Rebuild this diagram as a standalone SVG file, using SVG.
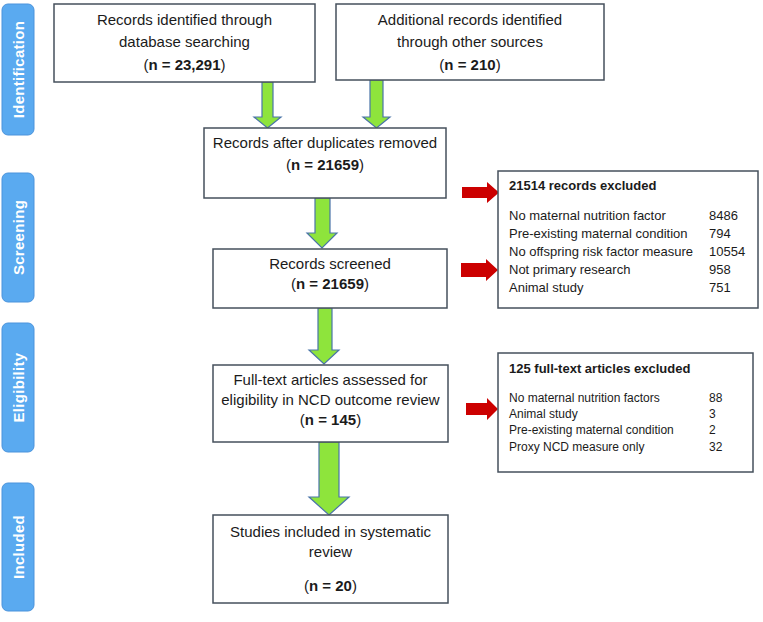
<svg xmlns="http://www.w3.org/2000/svg" width="763" height="622" viewBox="0 0 763 622">
<style>
text{font-family:"Liberation Sans",Arial,sans-serif;fill:#1b1b1b}
.box{fill:#fff;stroke:#46505c;stroke-width:1.5}
.side{fill:#5aaaf0;stroke:#4b93dc;stroke-width:1}
.sidet{fill:#fff;font-size:15px;font-weight:bold;letter-spacing:0.3px}
.m{font-size:15px;text-anchor:middle}
.b{font-weight:bold}
.g{fill:#8ee43c;stroke:#4a74a8;stroke-width:1.2}
.r{fill:#cc0000;stroke:none}
.t1{font-size:13px}
.t2{font-size:12px}
</style>
<g id="side-identification"><rect class="side" x="2" y="4" width="32" height="131" rx="6"/><text class="sidet" transform="translate(24,69.5) rotate(-90)" text-anchor="middle">Identification</text></g>
<g id="side-screening"><rect class="side" x="2" y="173" width="32" height="129" rx="6"/><text class="sidet" transform="translate(24,237.5) rotate(-90)" text-anchor="middle">Screening</text></g>
<g id="side-eligibility"><rect class="side" x="2" y="323" width="32" height="129" rx="6"/><text class="sidet" transform="translate(24,387.5) rotate(-90)" text-anchor="middle">Eligibility</text></g>
<g id="side-included"><rect class="side" x="2" y="483" width="32" height="128" rx="6"/><text class="sidet" transform="translate(24,547) rotate(-90)" text-anchor="middle">Included</text></g>

<g id="connectors">
<polygon class="g" points="262,82 273,82 273,117 281,117 267.5,128 254,117 262,117"/>
<polygon class="g" points="370,80 383,80 383,117 390,117 376.5,128 363,117 370,117"/>
<polygon class="g" points="315,198 330,198 330,233 337,233 322,248 307,233 315,233"/>
<polygon class="g" points="318,308 332,308 332,350 339,350 324,364 309,350 318,350"/>
<polygon class="g" points="319,442 339,442 339,497 349,497 329,515 309,497 319,497"/>
<polygon class="r" points="462,187 487,187 487,182 499,192.5 487,203 487,198 462,198"/>
<polygon class="r" points="461,263 486,263 486,259 498,270 486,281 486,277 461,277"/>
<polygon class="r" points="466,403 487,403 487,398 498,409 487,420 487,415 466,415"/>
</g>

<g id="node-db"><rect class="box" x="54" y="4" width="261" height="78"/>
<text class="m" x="184.5" y="25">Records identified through</text>
<text class="m" x="184.5" y="47">database searching</text>
<text class="m" x="184.5" y="70">(<tspan class="b">n = 23,291</tspan>)</text></g>

<g id="node-other"><rect class="box" x="336" y="4" width="268" height="76"/>
<text class="m" x="470" y="25">Additional records identified</text>
<text class="m" x="470" y="47">through other sources</text>
<text class="m" x="470" y="70">(<tspan class="b">n = 210</tspan>)</text></g>

<g id="node-dup"><rect class="box" x="204" y="128" width="242" height="70"/>
<text class="m" x="325" y="148">Records after duplicates removed</text>
<text class="m" x="325" y="170">(<tspan class="b">n = 21659</tspan>)</text></g>

<g id="node-screened"><rect class="box" x="213" y="249" width="234" height="59"/>
<text class="m" x="330" y="269">Records screened</text>
<text class="m" x="330" y="289">(<tspan class="b">n = 21659</tspan>)</text></g>

<g id="node-fulltext"><rect class="box" x="213" y="365" width="235" height="77"/>
<text class="m" x="330.5" y="385">Full-text articles assessed for</text>
<text class="m" x="330.5" y="405">eligibility in NCD outcome review</text>
<text class="m" x="330.5" y="425">(<tspan class="b">n = 145</tspan>)</text></g>

<g id="node-included"><rect class="box" x="213" y="515" width="235" height="88"/>
<text class="m" x="330.5" y="537">Studies included in systematic</text>
<text class="m" x="330.5" y="557">review</text>
<text class="m" x="330.5" y="591">(<tspan class="b">n = 20</tspan>)</text></g>

<g id="node-excluded1"><rect class="box" x="498" y="171" width="260" height="137"/>
<text class="t1 b" x="509" y="190">21514 records excluded</text>
<text class="t1" x="509" y="220">No maternal nutrition factor</text><text class="t1" x="709" y="220">8486</text>
<text class="t1" x="509" y="238">Pre-existing maternal condition</text><text class="t1" x="709" y="238">794</text>
<text class="t1" x="509" y="256">No offspring risk factor measure</text><text class="t1" x="709" y="256">10554</text>
<text class="t1" x="509" y="274">Not primary research</text><text class="t1" x="709" y="274">958</text>
<text class="t1" x="509" y="292">Animal study</text><text class="t1" x="709" y="292">751</text></g>

<g id="node-excluded2"><rect class="box" x="498" y="353" width="255" height="119"/>
<text class="t1 b" x="509" y="373">125 full-text articles excluded</text>
<text class="t2" x="509" y="402">No maternal nutrition factors</text><text class="t2" x="709" y="402">88</text>
<text class="t2" x="509" y="418">Animal study</text><text class="t2" x="709" y="418">3</text>
<text class="t2" x="509" y="434">Pre-existing maternal condition</text><text class="t2" x="709" y="434">2</text>
<text class="t2" x="509" y="451">Proxy NCD measure only</text><text class="t2" x="709" y="451">32</text></g>
</svg>
